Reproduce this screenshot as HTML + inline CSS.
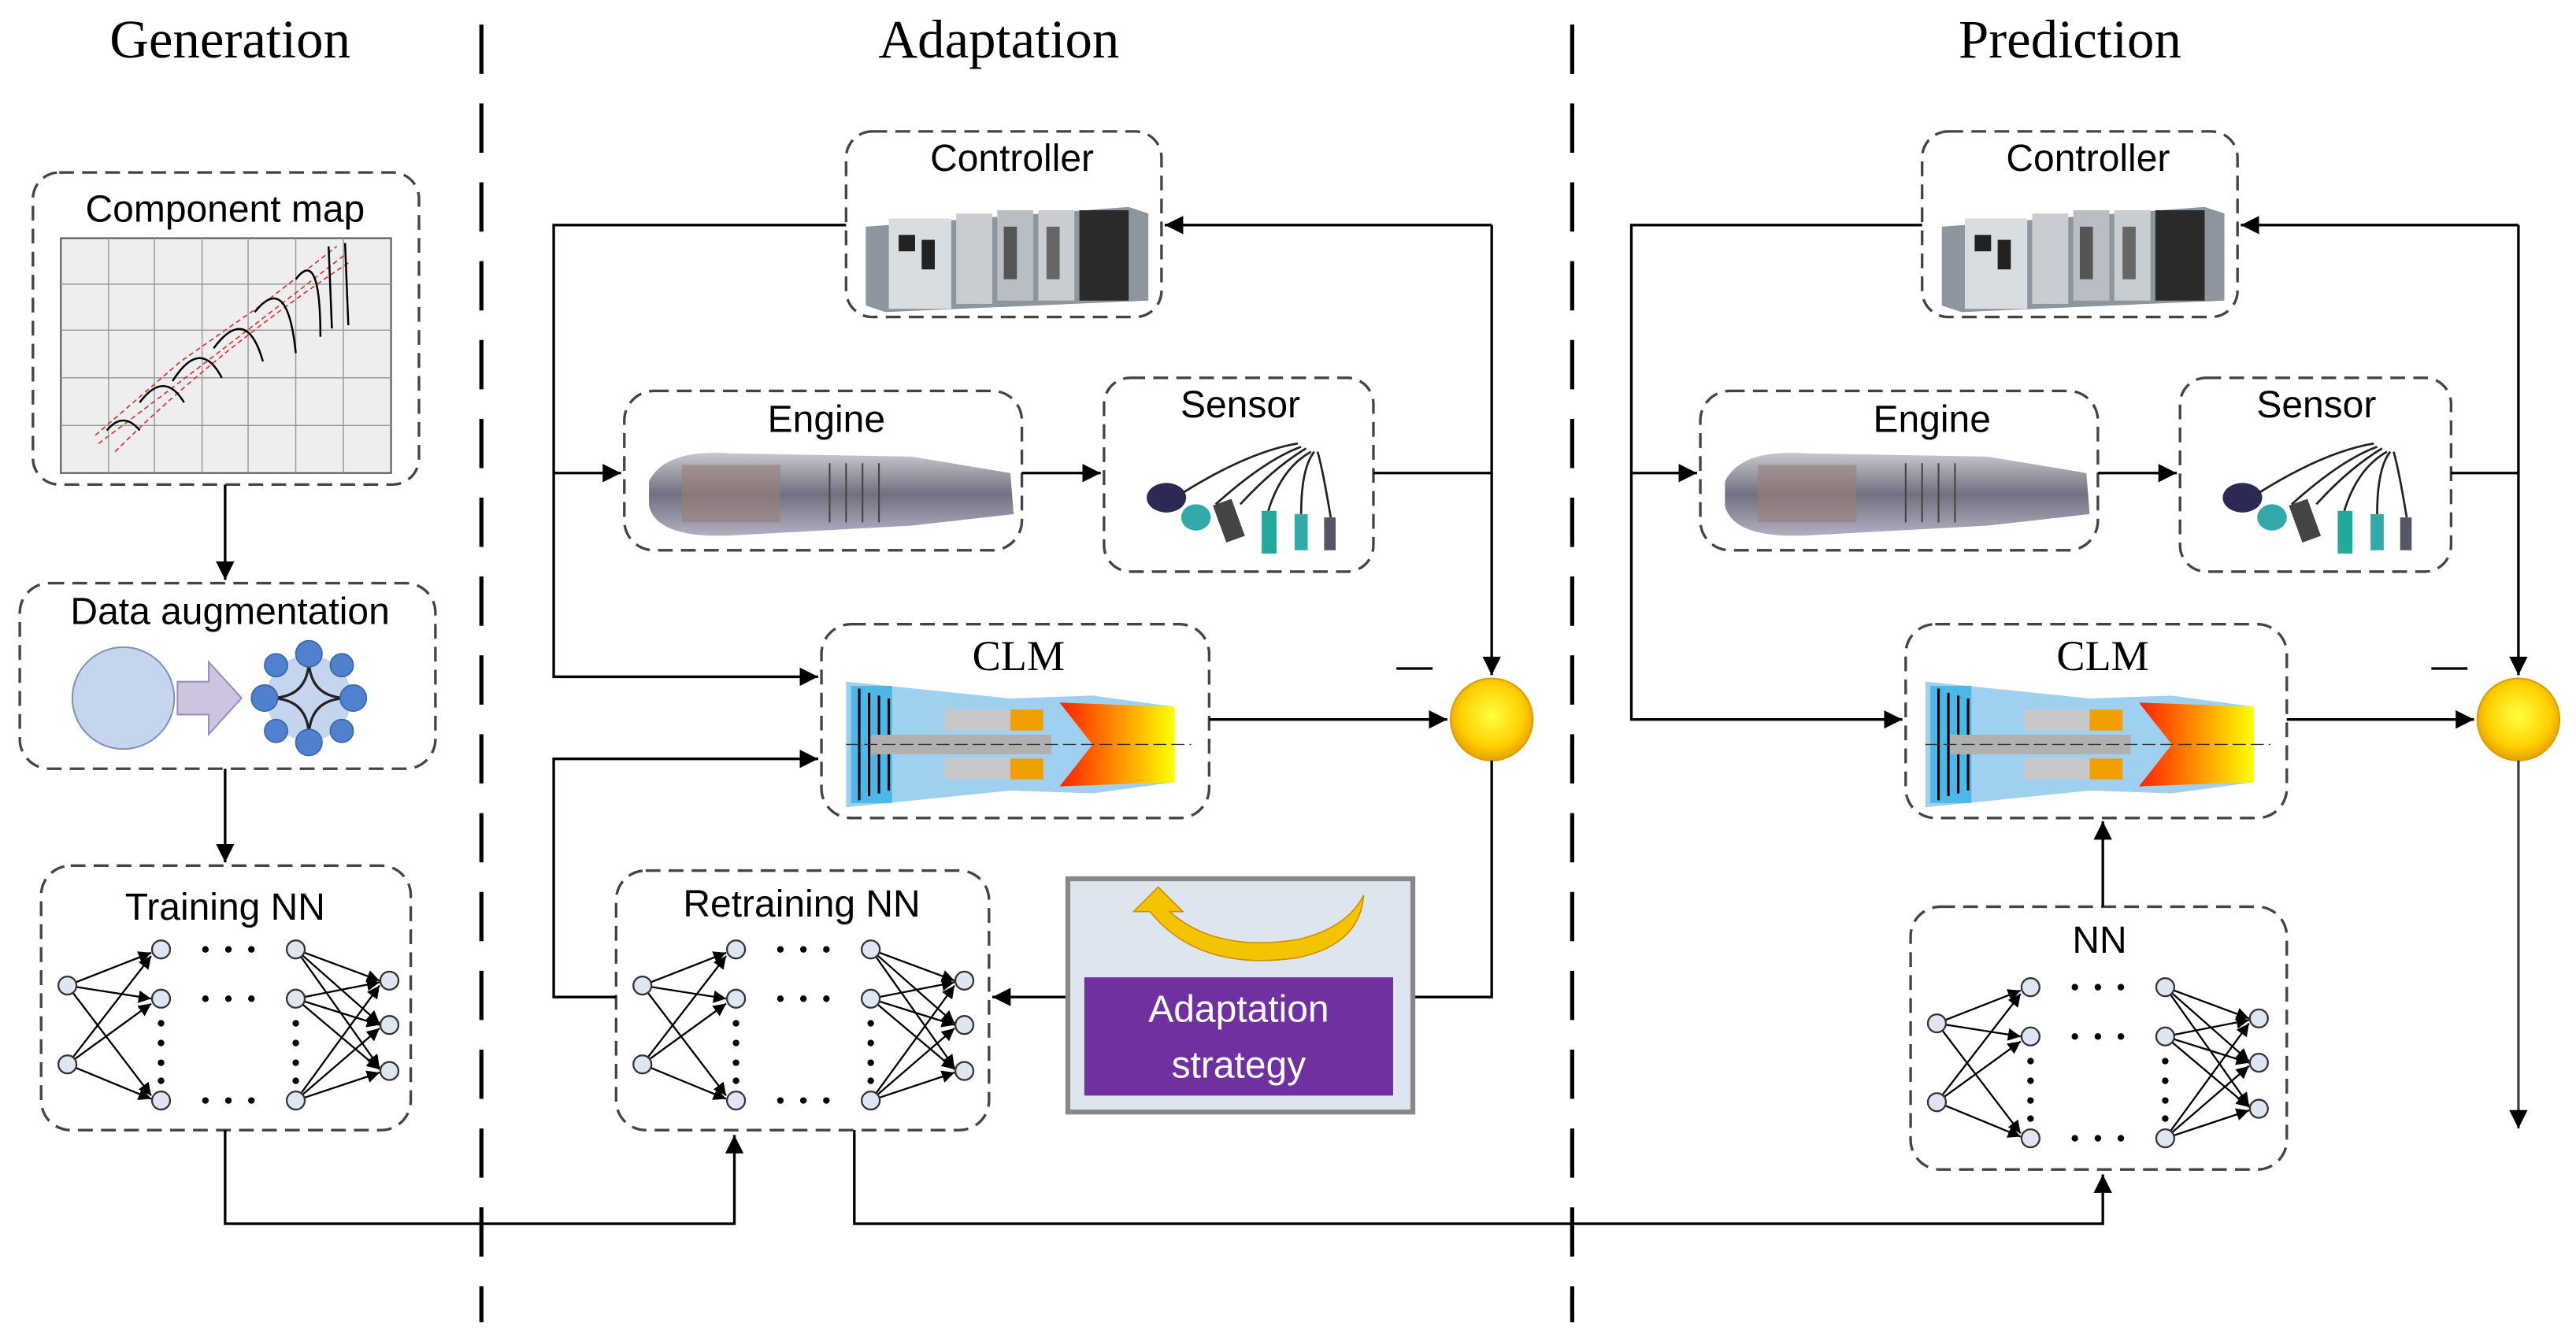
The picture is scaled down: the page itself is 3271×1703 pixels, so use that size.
<!DOCTYPE html>
<html><head><meta charset="utf-8"><style>
html,body{margin:0;padding:0;background:#fff;}
svg{display:block;}
.lbl{font-family:"Liberation Sans",sans-serif;font-size:23px;fill:#000;text-anchor:middle;}
.ttl{font-family:"Liberation Serif",serif;font-size:33px;fill:#000;text-anchor:middle;}
.box{fill:#fff;stroke:#444;stroke-width:1.6;stroke-dasharray:9,5;}
.ln{fill:none;stroke:#000;stroke-width:1.6;}
</style></head><body>
<svg width="3271" height="1703" viewBox="0 0 1568 816.4" xmlns="http://www.w3.org/2000/svg">
<defs>
<marker id="ar" viewBox="0 0 10 10" refX="10" refY="5" markerWidth="7" markerHeight="7" orient="auto-start-reverse"><path d="M0,0L10,5L0,10z" fill="#000"/></marker>
<radialGradient id="sun" cx="50%" cy="45%" r="55%"><stop offset="0" stop-color="#ffff40"/><stop offset="0.7" stop-color="#ffd000"/><stop offset="1" stop-color="#e8a000"/></radialGradient>
<linearGradient id="flame" x1="0" x2="1"><stop offset="0" stop-color="#ff2000"/><stop offset="0.5" stop-color="#ff9000"/><stop offset="1" stop-color="#ffff00"/></linearGradient>
<linearGradient id="eng" x1="0" y1="0" x2="0" y2="1"><stop offset="0" stop-color="#c8c8d0"/><stop offset="0.5" stop-color="#707080"/><stop offset="1" stop-color="#b0b0c0"/></linearGradient>
<g id="nn" stroke="#000" stroke-width="1.1" fill="none">
 <g marker-end="url(#ar)">
 <line x1="16" y1="73" x2="67" y2="53"/><line x1="16" y1="73" x2="67" y2="81"/><line x1="16" y1="73" x2="67" y2="140"/>
 <line x1="16" y1="121" x2="67" y2="55"/><line x1="16" y1="121" x2="67" y2="84"/><line x1="16" y1="121" x2="67" y2="142"/>
 <line x1="155" y1="51" x2="206" y2="70"/><line x1="155" y1="51" x2="206" y2="96"/><line x1="155" y1="51" x2="206" y2="123"/>
 <line x1="155" y1="81" x2="206" y2="71"/><line x1="155" y1="81" x2="206" y2="97"/><line x1="155" y1="81" x2="206" y2="124"/>
 <line x1="155" y1="143" x2="206" y2="73"/><line x1="155" y1="143" x2="206" y2="99"/><line x1="155" y1="143" x2="206" y2="126"/>
 </g>
 <g fill="#dfe6f3" stroke="#333">
 <circle cx="16" cy="73" r="5.5"/><circle cx="16" cy="121" r="5.5"/>
 <circle cx="73" cy="51" r="5.5"/><circle cx="73" cy="81" r="5.5"/><circle cx="73" cy="143" r="5.5"/>
 <circle cx="155" cy="51" r="5.5"/><circle cx="155" cy="81" r="5.5"/><circle cx="155" cy="143" r="5.5"/>
 <circle cx="212" cy="70" r="5.5"/><circle cx="212" cy="97" r="5.5"/><circle cx="212" cy="125" r="5.5"/>
 </g>
 <g fill="#000" stroke="none">
 <circle cx="100" cy="51" r="2"/><circle cx="114" cy="51" r="2"/><circle cx="128" cy="51" r="2"/>
 <circle cx="100" cy="81" r="2"/><circle cx="114" cy="81" r="2"/><circle cx="128" cy="81" r="2"/>
 <circle cx="100" cy="143" r="2"/><circle cx="114" cy="143" r="2"/><circle cx="128" cy="143" r="2"/>
 <circle cx="73" cy="96" r="2"/><circle cx="73" cy="108" r="2"/><circle cx="73" cy="120" r="2"/><circle cx="73" cy="131" r="2"/>
 <circle cx="155" cy="96" r="2"/><circle cx="155" cy="108" r="2"/><circle cx="155" cy="120" r="2"/><circle cx="155" cy="131" r="2"/>
 </g>
</g>
<g id="ctrl">
 <path d="M0,30 L160,18 L172,22 L172,75 L12,82 L0,78z" fill="#8d959e"/>
 <rect x="14" y="25" width="38" height="55" fill="#d8dde2"/>
 <rect x="55" y="22" width="22" height="55" fill="#c8cdd2"/>
 <rect x="80" y="20" width="22" height="55" fill="#b8bec4"/>
 <rect x="105" y="20" width="22" height="55" fill="#c8cdd2"/>
 <rect x="130" y="20" width="30" height="55" fill="#2a2a2a"/>
 <rect x="20" y="35" width="10" height="10" fill="#222"/><rect x="34" y="38" width="8" height="18" fill="#222"/>
 <rect x="84" y="30" width="8" height="32" fill="#555"/><rect x="110" y="30" width="8" height="32" fill="#666"/>
</g>
<g id="engine">
 <path d="M10,25 Q20,5 60,8 L170,10 L230,20 L232,45 L170,52 L60,58 Q15,60 10,40z" fill="url(#eng)"/>
 <rect x="30" y="15" width="60" height="35" fill="#9a7f78" opacity="0.6"/>
 <g stroke="#444" stroke-width="1">
 <line x1="120" y1="14" x2="120" y2="50"/><line x1="130" y1="14" x2="130" y2="50"/><line x1="140" y1="14" x2="140" y2="50"/><line x1="150" y1="14" x2="150" y2="50"/>
 </g>
</g>
<g id="sensor">
 <ellipse cx="30" cy="58" rx="12" ry="9" fill="#2a2a55"/>
 <ellipse cx="48" cy="70" rx="9" ry="8" fill="#3aa"/>
 <rect x="62" y="60" width="12" height="24" fill="#444" transform="rotate(-20 68 72)"/>
 <rect x="88" y="66" width="9" height="26" fill="#2a9"/>
 <rect x="108" y="68" width="8" height="22" fill="#3aa"/>
 <rect x="126" y="70" width="7" height="20" fill="#556"/>
 <path d="M40,55 Q80,30 110,25 M60,62 Q90,35 112,27 M75,62 Q95,40 115,28 M92,66 Q100,40 118,30 M112,68 Q112,40 120,30 M130,70 Q125,40 122,30" stroke="#222" stroke-width="1.3" fill="none"/>
</g>
<g id="clm">
 <path d="M0,0 L100,12 L150,10 L200,18 L200,72 L150,80 L100,78 L0,90z" fill="#9fd0f0"/>
 <path d="M130,15 L200,18 L200,72 L130,75 L150,45z" fill="url(#flame)"/>
 <rect x="3" y="3" width="25" height="84" fill="#4cb8e8"/>
 <g stroke="#000" stroke-width="1.5"><line x1="8" y1="5" x2="8" y2="85"/><line x1="14" y1="8" x2="14" y2="82"/><line x1="20" y1="10" x2="20" y2="80"/><line x1="26" y1="12" x2="26" y2="78"/></g>
 <rect x="15" y="38" width="110" height="14" fill="#b0b0b0"/>
 <rect x="60" y="20" width="40" height="15" fill="#c8c8c8"/><rect x="60" y="55" width="40" height="15" fill="#c8c8c8"/>
 <rect x="100" y="20" width="20" height="15" fill="#f0a000"/><rect x="100" y="55" width="20" height="15" fill="#f0a000"/>
 <line x1="0" y1="45" x2="210" y2="45" stroke="#333" stroke-dasharray="8,3" stroke-width="0.8"/>
</g>
</defs>

<!-- titles -->
<text class="ttl" x="140" y="35">Generation</text>
<text class="ttl" x="608" y="35">Adaptation</text>
<text class="ttl" x="1260" y="35">Prediction</text>

<line x1="293" y1="15" x2="293" y2="805" stroke="#000" stroke-width="2.5" stroke-dasharray="30,18"/>
<line x1="957" y1="15" x2="957" y2="805" stroke="#000" stroke-width="2.5" stroke-dasharray="30,18"/>

<!-- Generation -->
<rect class="box" x="20" y="105" width="235" height="190" rx="16"/>
<text class="lbl" x="137" y="135">Component map</text>
<rect x="37" y="145" width="201" height="143" fill="#eee" stroke="#555" stroke-width="1"/>
<g stroke="#999" stroke-width="0.7">
<line x1="37" y1="173" x2="238" y2="173"/><line x1="37" y1="201" x2="238" y2="201"/><line x1="37" y1="230" x2="238" y2="230"/><line x1="37" y1="259" x2="238" y2="259"/>
<line x1="66" y1="145" x2="66" y2="288"/><line x1="94" y1="145" x2="94" y2="288"/><line x1="123" y1="145" x2="123" y2="288"/><line x1="151" y1="145" x2="151" y2="288"/><line x1="180" y1="145" x2="180" y2="288"/><line x1="209" y1="145" x2="209" y2="288"/>
</g>
<g fill="none" stroke="#e03030" stroke-width="0.8" stroke-dasharray="3,2">
<path d="M58,265 L110,220 L160,185 L205,150"/><path d="M60,270 Q120,225 210,155"/><path d="M70,275 Q130,215 212,160"/>
</g>
<g fill="none" stroke="#000" stroke-width="1.2">
<path d="M65,262 Q75,250 85,262"/><path d="M85,245 Q100,225 112,245"/><path d="M105,232 Q122,205 135,230"/><path d="M130,212 Q150,185 160,220"/><path d="M155,190 Q175,165 180,215"/><path d="M180,170 Q195,150 195,205"/><path d="M200,150 L202,200"/><path d="M210,148 L212,198"/>
</g>
<line class="ln" x1="137" y1="295" x2="137" y2="353" marker-end="url(#ar)"/>

<rect class="box" x="12" y="355" width="253" height="113" rx="18"/>
<text class="lbl" x="140" y="380">Data augmentation</text>
<circle cx="75" cy="425" r="31" fill="#c5d5ee" stroke="#7d93b8" stroke-width="1"/>
<path d="M108,415 L127,415 L127,403 L147,425 L127,447 L127,435 L108,435z" fill="#cfc4e0" stroke="#9a8fb8" stroke-width="1"/>
<g>
<circle cx="188" cy="425" r="26" fill="#c5d5ee"/>
<path d="M164,425 Q188,425 188,401 Q188,425 212,425 Q188,425 188,449 Q188,425 164,425z" fill="none" stroke="#222" stroke-width="1.5"/>
<g fill="#4f81cf" stroke="#3a66a8" stroke-width="0.8">
<circle cx="188" cy="398" r="8"/><circle cx="188" cy="452" r="8"/><circle cx="161" cy="425" r="8"/><circle cx="215" cy="425" r="8"/>
<circle cx="168" cy="405" r="7"/><circle cx="208" cy="405" r="7"/><circle cx="168" cy="445" r="7"/><circle cx="208" cy="445" r="7"/>
</g></g>
<line class="ln" x1="137" y1="468" x2="137" y2="525" marker-end="url(#ar)"/>

<rect class="box" x="25" y="527" width="225" height="161" rx="18"/>
<text class="lbl" x="137" y="560">Training NN</text>
<use href="#nn" transform="translate(25,527)"/>

<polyline class="ln" points="137,688 137,745 447,745 447,691" marker-end="url(#ar)"/>

<!-- Adaptation -->
<rect class="box" x="515" y="80" width="192" height="113" rx="16"/>
<text class="lbl" x="616" y="104">Controller</text>
<use href="#ctrl" transform="translate(527,108)"/>

<rect class="box" x="380" y="238" width="242" height="97" rx="18"/>
<text class="lbl" x="503" y="263">Engine</text>
<use href="#engine" transform="translate(385,268)"/>

<rect class="box" x="672" y="230" width="164" height="118" rx="16"/>
<text class="lbl" x="755" y="254">Sensor</text>
<use href="#sensor" transform="translate(680,245)"/>

<rect class="box" x="500" y="380" width="236" height="118" rx="18"/>
<text class="ttl" x="620" y="408" style="font-size:26px">CLM</text>
<use href="#clm" transform="translate(515,415) scale(1,0.85)"/>

<circle cx="908" cy="438" r="25" fill="url(#sun)" stroke="#d9a000" stroke-width="1"/>
<line x1="850" y1="407" x2="872" y2="407" stroke="#000" stroke-width="1.6"/>

<polyline class="ln" points="515,137 337,137 337,412 498,412" marker-end="url(#ar)"/>
<line class="ln" x1="337" y1="288" x2="378" y2="288" marker-end="url(#ar)"/>
<line class="ln" x1="622" y1="288" x2="670" y2="288" marker-end="url(#ar)"/>
<polyline class="ln" points="836,288 908,288"/>
<polyline class="ln" points="908,137 908,411" marker-end="url(#ar)"/>
<line class="ln" x1="908" y1="137" x2="709" y2="137" marker-end="url(#ar)"/>
<line class="ln" x1="736" y1="438" x2="881" y2="438" marker-end="url(#ar)"/>
<polyline class="ln" points="908,463 908,607 604,607" marker-end="url(#ar)"/>

<rect x="650" y="535" width="210" height="142" fill="#dde6ef" stroke="#888" stroke-width="3"/>
<path d="M690,555 L705,540 L720,555 L712,555 Q740,580 790,572 Q820,565 830,545 Q828,575 790,583 Q730,592 700,555z" fill="#f5c400" stroke="#d09000" stroke-width="0.8"/>
<rect x="660" y="595" width="188" height="72" fill="#7030a0"/>
<text class="lbl" x="754" y="622" style="fill:#fff">Adaptation</text>
<text class="lbl" x="754" y="656" style="fill:#fff">strategy</text>

<rect class="box" x="375" y="530" width="227" height="158" rx="18"/>
<text class="lbl" x="488" y="558">Retraining NN</text>
<use href="#nn" transform="translate(375,527)"/>

<polyline class="ln" points="375,607 337,607 337,462 498,462" marker-end="url(#ar)"/>
<polyline class="ln" points="520,688 520,745 1280,745 1280,715" marker-end="url(#ar)"/>

<!-- Prediction -->
<rect class="box" x="1170" y="80" width="192" height="113" rx="16"/>
<text class="lbl" x="1271" y="104">Controller</text>
<use href="#ctrl" transform="translate(1182,108)"/>

<rect class="box" x="1035" y="238" width="242" height="97" rx="18"/>
<text class="lbl" x="1176" y="263">Engine</text>
<use href="#engine" transform="translate(1040,268)"/>

<rect class="box" x="1327" y="230" width="165" height="118" rx="16"/>
<text class="lbl" x="1410" y="254">Sensor</text>
<use href="#sensor" transform="translate(1335,245)"/>

<rect class="box" x="1160" y="380" width="232" height="118" rx="18"/>
<text class="ttl" x="1280" y="408" style="font-size:26px">CLM</text>
<use href="#clm" transform="translate(1172,415) scale(1,0.85)"/>

<circle cx="1533" cy="438" r="25" fill="url(#sun)" stroke="#d9a000" stroke-width="1"/>
<line x1="1480" y1="407" x2="1502" y2="407" stroke="#000" stroke-width="1.6"/>

<polyline class="ln" points="1170,137 993,137 993,438 1158,438" marker-end="url(#ar)"/>
<line class="ln" x1="993" y1="288" x2="1033" y2="288" marker-end="url(#ar)"/>
<line class="ln" x1="1277" y1="288" x2="1325" y2="288" marker-end="url(#ar)"/>
<polyline class="ln" points="1492,288 1533,288"/>
<polyline class="ln" points="1533,137 1533,411" marker-end="url(#ar)"/>
<line class="ln" x1="1533" y1="137" x2="1364" y2="137" marker-end="url(#ar)"/>
<line class="ln" x1="1392" y1="438" x2="1506" y2="438" marker-end="url(#ar)"/>
<line x1="1533" y1="463" x2="1533" y2="687" stroke="#444" stroke-width="1.6" marker-end="url(#ar)"/>

<rect class="box" x="1163" y="552" width="229" height="160" rx="18"/>
<text class="lbl" x="1278" y="580">NN</text>
<use href="#nn" transform="translate(1163,550)"/>
<line class="ln" x1="1280" y1="552" x2="1280" y2="500" marker-end="url(#ar)"/>
</svg>
</body></html>
